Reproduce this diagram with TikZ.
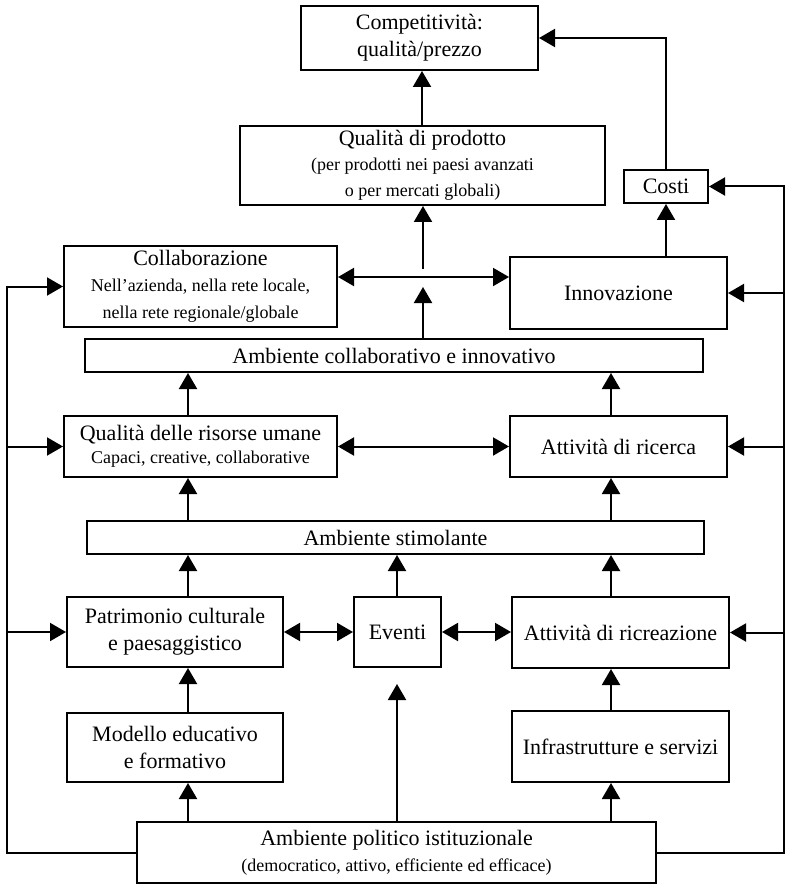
\documentclass[tikz,border=0pt]{standalone}
\usepackage{fontspec}
\setmainfont{Liberation Serif}
\usetikzlibrary{arrows.meta}
\begin{document}
\begin{tikzpicture}[x=0.75pt,y=-0.75pt,
  lw/.style={line width=1.5pt},
  bx/.style n args={2}{draw,lw,inner sep=0pt,align=center,
    minimum width=#1*0.75pt,minimum height=#2*0.75pt,
    font=\fontsize{16.5}{20.5}\selectfont},
  tri/.tip={Triangle[length=12pt,width=13.5pt]},
  conn/.style={lw,-tri},
  dconn/.style={lw,tri-tri}]
\useasboundingbox (0,0) rectangle (787,884);
\newcommand{\subt}{\fontsize{13.5}{16.5}\selectfont}
% boxes
\node[bx={237}{64}] (comp) at (419.5,38) {Competitività:\\qualità/prezzo};
\node[bx={365}{79}] (qp) at (422.5,165.5) {Qualità di prodotto\\[-2pt]{\subt (per prodotti nei paesi avanzati}\\[-1pt]{\subt o per mercati globali)}};
\node[bx={84}{33}] (costi) at (666,186.5) {Costi};
\node[bx={273}{81}] (collab) at (200.5,286.5) {Collaborazione\\[-1pt]{\subt Nell'azienda, nella rete locale,}\\[0pt]{\subt nella rete regionale/globale}};
\node[bx={217}{72}] (innov) at (618.5,293) {Innovazione};
\node[bx={618}{33}] (acoll) at (394,355.5) {Ambiente collaborativo e innovativo};
\node[bx={273}{61}] (qru) at (200.5,446.5) {Qualità delle risorse umane\\[-3pt]{\subt Capaci, creative, collaborative}};
\node[bx={217}{61}] (ric) at (618.5,446.5) {Attività di ricerca};
\node[bx={617}{33}] (astim) at (395.5,537.5) {Ambiente stimolante};
\node[bx={216}{70}] (patr) at (175,632) {Patrimonio culturale\\e paesaggistico};
\node[bx={87}{70}] (ev) at (397.5,632) {Eventi};
\node[bx={217}{71}] (ricr) at (620.5,632.5) {Attività di ricreazione};
\node[bx={216}{69}] (mod) at (175,747.5) {Modello educativo\\e formativo};
\node[bx={217}{71}] (infr) at (620.5,746.5) {Infrastrutture e servizi};
\node[bx={519}{61}] (apol) at (396.5,852.5) {Ambiente politico istituzionale\\[-1pt]{\subt (democratico, attivo, efficiente ed efficace)}};
% helper coordinates
\coordinate (lx) at (7,0);
\coordinate (rx) at (784,0);
\coordinate (lc) at (188,0);
\coordinate (rc) at (611,0);
\coordinate (y277) at (0,277);
\coordinate (qin1) at (423,269);
\coordinate (qin2) at (423,287);
\coordinate (evin) at (397,684);
% top part
\draw[conn] (qp.north -| 422,0) -- (comp.south -| 422,0);
\draw[conn] (costi.north) |- (comp.east);
\draw[conn] (innov.north -| costi) -- (costi.south);
\draw[conn] (qin1) -- (qin1 |- qp.south);
\draw[conn] (acoll.north -| qin2) -- (qin2);
\draw[dconn] (collab.east |- y277) -- (innov.west |- y277);
% middle
\draw[conn] (qru.north -| lc) -- (acoll.south -| lc);
\draw[conn] (ric.north -| rc) -- (acoll.south -| rc);
\draw[dconn] (qru.east) -- (ric.west);
\draw[conn] (astim.north -| lc) -- (qru.south -| lc);
\draw[conn] (astim.north -| rc) -- (ric.south -| rc);
\draw[conn] (patr.north -| lc) -- (astim.south -| lc);
\draw[conn] (ev.north -| evin) -- (astim.south -| evin);
\draw[conn] (ricr.north -| rc) -- (astim.south -| rc);
\draw[dconn] (patr.east) -- (ev.west);
\draw[dconn] (ev.east) -- (ricr.west |- ev.east);
% bottom
\draw[conn] (mod.north -| lc) -- (patr.south -| lc);
\draw[conn] (infr.north -| rc) -- (ricr.south -| rc);
\draw[conn] (apol.north -| lc) -- (mod.south -| lc);
\draw[conn] (apol.north -| rc) -- (infr.south -| rc);
\draw[conn] (apol.north -| evin) -- (evin);
% left loop
\draw[conn] (apol.west) -| (lx |- collab.west) -- (collab.west);
\draw[conn] (lx |- qru.west) -- (qru.west);
\draw[conn] (lx |- patr.west) -- (patr.west);
% right loop
\draw[conn] (apol.east) -| (rx |- costi.east) -- (costi.east);
\draw[conn] (rx |- innov.east) -- (innov.east);
\draw[conn] (rx |- ric.east) -- (ric.east);
\draw[conn] (rx |- ricr.east) -- (ricr.east);
\end{tikzpicture}
\end{document}
